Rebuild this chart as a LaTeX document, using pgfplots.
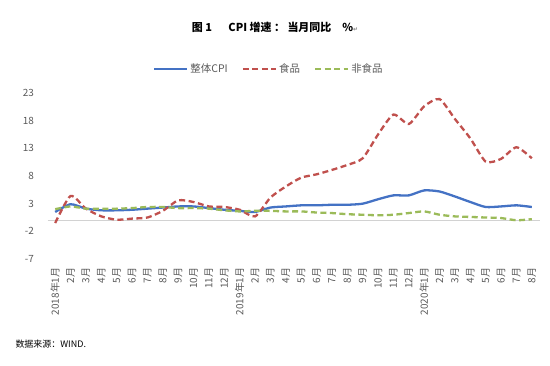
\documentclass[border=0pt]{standalone}
\usepackage{pgfplots}
\pgfplotsset{compat=1.18}
\usepackage{fontspec}
\setmainfont{Noto Sans CJK SC}
\newfontfamily\symfont{DejaVu Sans}
\definecolor{cblue}{HTML}{4472C4}
\definecolor{cred}{HTML}{C0504D}
\definecolor{cgreen}{HTML}{9BBB59}
\definecolor{tgray}{HTML}{595959}
\pgfplotstableread{
x cpi food nonfood
0 1.5 -0.5 2.0
1 2.9 4.4 2.5
2 2.1 2.1 2.1
3 1.8 0.7 2.1
4 1.8 0.1 2.1
5 1.9 0.3 2.2
6 2.1 0.5 2.4
7 2.3 1.7 2.4
8 2.5 3.6 2.2
9 2.5 3.3 2.2
10 2.2 2.5 2.1
11 1.9 2.4 1.8
12 1.7 1.9 1.6
13 1.5 0.7 1.7
14 2.3 4.1 1.7
15 2.5 6.1 1.6
16 2.7 7.7 1.6
17 2.7 8.3 1.4
18 2.8 9.1 1.3
19 2.8 10.0 1.1
20 3.0 11.2 1.0
21 3.8 15.5 0.9
22 4.5 19.1 1.0
23 4.5 17.4 1.3
24 5.4 20.6 1.6
25 5.2 21.9 1.0
26 4.3 18.3 0.7
27 3.3 14.8 0.6
28 2.4 10.6 0.5
29 2.5 11.1 0.4
30 2.7 13.2 0.0
31 2.4 11.2 0.2
}\datatable
\begin{document}
\begin{tikzpicture}[x=1bp,y=1bp]
\path[use as bounding box] (0,0) rectangle (550,365);
\node[font=\bfseries\fontsize{11}{13}\selectfont] at (275,338) {图 1\hspace{1.5em}CPI 增速 ： 当月同比\hspace{1em}\%{\symfont\fontsize{6}{7}\selectfont\color{gray}↵}};
\node[anchor=west, font=\fontsize{9}{10}\selectfont] at (12,21) {数据来源：WIND.};
\begin{axis}[
  at={(47.5bp,106bp)}, anchor=south west,
  width=492bp, height=166bp, scale only axis,
  xmin=-0.5, xmax=31.5, ymin=-7, ymax=23,
  ytick={-7,-2,3,8,13,18,23},
  xtick={0,...,31},
  xticklabels={2018年1月,2月,3月,4月,5月,6月,7月,8月,9月,10月,11月,12月,2019年1月,2月,3月,4月,5月,6月,7月,8月,9月,10月,11月,12月,2020年1月,2月,3月,4月,5月,6月,7月,8月},
  axis line style={draw=none},
  major tick length=0pt,
  /pgf/number format/assume math mode=true,
  yticklabel style={font=\fontsize{10}{11}\selectfont, text=tgray, xshift=-10bp},
  xticklabel style={font=\fontsize{10}{11}\selectfont, text=tgray, yshift=-5bp, rotate=90, anchor=east},
  legend columns=-1,
  legend style={draw=none, fill=none, at={(0.45,1.145)}, anchor=center,
    font=\fontsize{10.5}{11}\selectfont, text=tgray,
    /tikz/every even column/.append style={column sep=12bp}},
  legend image code/.code={\draw[#1] (0bp,0bp) -- (33bp,0bp);},
  clip=false,
]
\draw[gray!35, line width=0.8bp] (axis cs:-0.5,0) -- (axis cs:31.5,0);
\addplot[cblue, line width=2.3bp, smooth, tension=0.4] table[x=x,y=cpi] {\datatable};
\addlegendentry{整体CPI}
\addplot[cred, line width=2.3bp, smooth, tension=0.4, dash pattern=on 6bp off 3.5bp] table[x=x,y=food] {\datatable};
\addlegendentry{食品}
\addplot[cgreen, line width=2.3bp, smooth, tension=0.4, dash pattern=on 6bp off 3.5bp] table[x=x,y=nonfood] {\datatable};
\addlegendentry{非食品}
\end{axis}
\end{tikzpicture}
\end{document}
